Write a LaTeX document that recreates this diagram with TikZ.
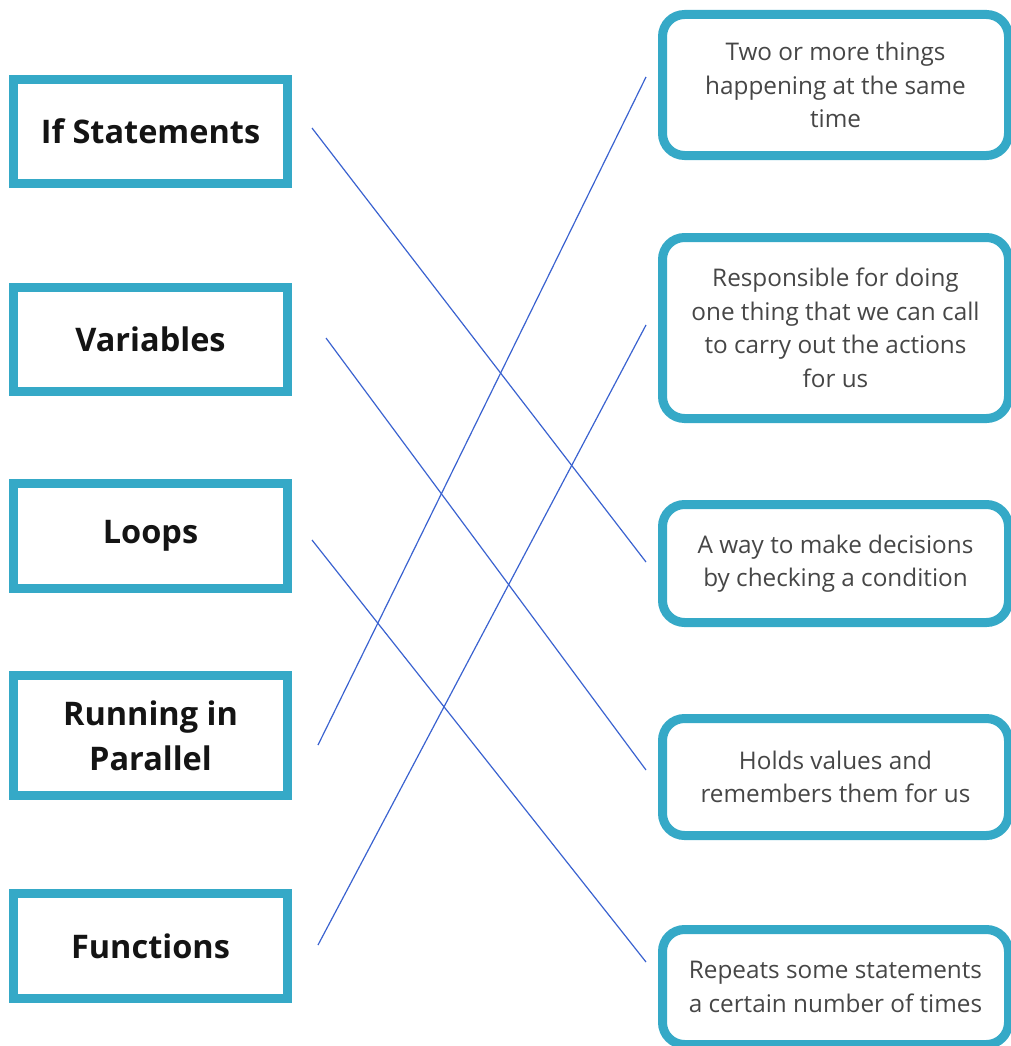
\documentclass[tikz,border=0pt]{standalone}
\usepackage{fontspec}
\setmainfont{Open Sans}
\definecolor{teal1}{RGB}{53,169,199}
\definecolor{linkblue}{RGB}{58,98,208}
\definecolor{deftext}{RGB}{70,70,70}
\definecolor{termtext}{RGB}{20,20,20}
\begin{document}
\begin{tikzpicture}[x=1pt,y=-1pt,
  term/.style={draw=teal1, line width=9pt, rectangle, minimum width=274pt,
    align=center, text=termtext, font=\bfseries\fontsize{32.5}{45}\selectfont, inner sep=0pt},
  defn/.style={draw=teal1, line width=9pt, rectangle, rounded corners=22pt,
    minimum width=346pt, align=center, text=deftext,
    font=\fontsize{24.3}{33.5}\selectfont, inner sep=0pt},
  link/.style={draw=linkblue, line width=1.2pt}]
\useasboundingbox (0,0) rectangle (1010,1046);
% terms
\node[term, minimum height=104pt] (ifs) at (150.5,131.5) {If Statements};
\node[term, minimum height=103.5pt] (vars) at (150.5,339.25) {Variables};
\node[term, minimum height=104.5pt] (loops) at (150.5,535.75) {Loops};
\node[term, minimum height=120pt] (par) at (150.5,735.5) {Running in\\Parallel};
\node[term, minimum height=105pt] (funcs) at (150.5,946) {Functions};
% definitions
\node[defn, minimum height=141pt] (d1) at (835.5,85) {Two or more things\\happening at the same\\time};
\node[defn, minimum height=181pt] (d2) at (835.5,328) {Responsible for doing\\one thing that we can call\\to carry out the actions\\for us};
\node[defn, minimum height=118pt] (d3) at (835.5,563.5) {A way to make decisions\\by checking a condition};
\node[defn, minimum height=117pt] (d4) at (835.5,777) {Holds values and\\remembers them for us};
\node[defn, minimum height=115pt] (d5) at (835.5,987) {Repeats some statements\\a certain number of times};
% connector ends
\coordinate (ifsE) at (312,128);
\coordinate (varsE) at (326,338);
\coordinate (loopsE) at (312,540);
\coordinate (parE) at (318,745);
\coordinate (funcsE) at (318,945);
\coordinate (d1W) at (646,77);
\coordinate (d2W) at (646,325);
\coordinate (d3W) at (646,562);
\coordinate (d4W) at (646,770);
\coordinate (d5W) at (646,962);
\draw[link] (ifsE) -- (d3W);
\draw[link] (varsE) -- (d4W);
\draw[link] (loopsE) -- (d5W);
\draw[link] (parE) -- (d1W);
\draw[link] (funcsE) -- (d2W);
\end{tikzpicture}
\end{document}
